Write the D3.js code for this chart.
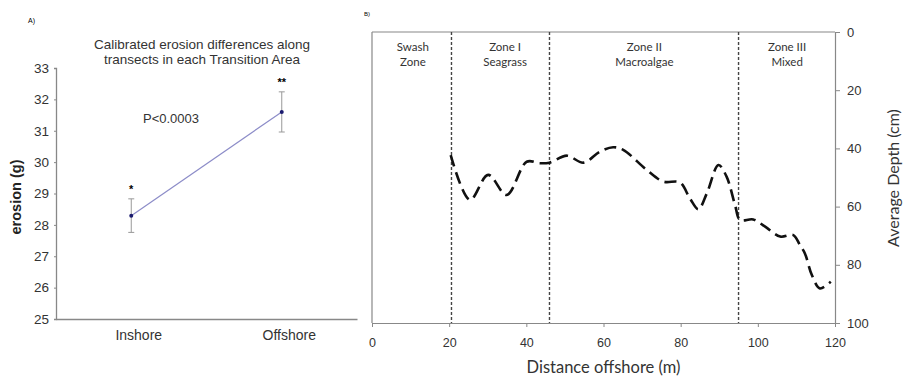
<!DOCTYPE html>
<html>
<head>
<meta charset="utf-8">
<script src="https://cdn.jsdelivr.net/npm/d3@7"></script>
<style>
  body { margin: 0; background: #fff; }
  svg { display: block; }
</style>
</head>
<body>
<div id="chart"></div>
<script>
// Panel A: erosion by transect position
var categories = ["Inshore", "Offshore"];
var erosionMean = [28.29, 31.6];
var erosionLow = [27.76, 30.96];
var erosionHigh = [28.83, 32.24];
var sigMarks = ["*", "**"];
var erosionTicks = [25, 26, 27, 28, 29, 30, 31, 32, 33];

// Panel B: depth profile along transect
var distance = [20.4, 25.4, 30.1, 34.9, 40.1, 43.5, 46, 50.5, 54.8, 59.1, 62.5, 65.1, 71.2, 75.5, 79.8,
    82.4, 84.6, 86.8, 89.8, 91.9, 94.1, 95.4, 98.8, 101.9, 105.8, 109.2, 110.9, 112.2, 114, 116.1, 118.9];
var depth = [42.3, 57.7, 49.1, 56, 44.6, 45.1, 44.9, 42.5, 44.9, 41.1, 39.6, 40.5, 47.4, 51.4, 51.7,
    57.2, 60.9, 55.4, 45.7, 49.7, 59.5, 64.6, 64.4, 66.9, 70.3, 69.8, 73.2, 76.1, 83.5, 88.1, 85.8];
var zoneBounds = [20.6, 46, 95];
var zoneNames = [["Swash", "Zone"], ["Zone I", "Seagrass"], ["Zone II", "Macroalgae"], ["Zone III", "Mixed"]];
var zoneCenters = [10.6, 34.5, 70.6, 107.6];
var distTicks = [0, 20, 40, 60, 80, 100, 120];
var depthTicks = [0, 20, 40, 60, 80, 100];

var width = 905, height = 381;
var svg = d3.select("#chart").append("svg")
    .attr("width", width)
    .attr("height", height);

var arial = "'Liberation Sans', Arial, sans-serif";
var calibri = "Lato, 'Open Sans', sans-serif";

// ---------- Panel A ----------
var xA = d3.scalePoint().domain(categories).range([56, 357]).padding(0.5);
var yA = d3.scaleLinear().domain([25, 33]).range([319, 68]);

svg.append("text").attr("x", 28).attr("y", 23)
    .style("font-family", arial).style("font-size", "7px").text("A)");

var titleA = svg.append("text").attr("x", 202).attr("y", 49)
    .attr("text-anchor", "middle")
    .style("font-family", arial).style("font-size", "13.5px").style("fill", "#333");
titleA.append("tspan").attr("x", 202).text("Calibrated erosion differences along");
titleA.append("tspan").attr("x", 202).attr("dy", 15).text("transects in each Transition Area");

var yAxisA = svg.append("g").attr("transform", "translate(56,0)")
    .call(d3.axisLeft(yA).tickValues(erosionTicks).tickSize(2).tickFormat(d3.format("d")));
yAxisA.select(".domain").attr("stroke", "#888").attr("stroke-width", 1.3);
yAxisA.selectAll(".tick line").attr("stroke", "#888");
yAxisA.selectAll("text").attr("x", -7)
    .style("font-family", arial).style("font-size", "13.5px").style("fill", "#333");

var xAxisA = svg.append("g").attr("transform", "translate(0,319)")
    .call(d3.axisBottom(xA).tickSize(0));
xAxisA.select(".domain").attr("stroke", "#888").attr("stroke-width", 1.5);
xAxisA.selectAll("text").attr("y", 11).attr("dx", 7)
    .style("font-family", arial).style("font-size", "14px").style("fill", "#333");

svg.append("text").attr("transform", "translate(21,197) rotate(-90)")
    .attr("text-anchor", "middle")
    .style("font-family", arial).style("font-size", "14.5px").style("font-weight", "bold")
    .style("fill", "#222")
    .text("erosion (g)");

svg.append("path")
    .datum(categories)
    .attr("fill", "none").attr("stroke", "#8c8cc8").attr("stroke-width", 1.2)
    .attr("d", d3.line().x(function(d) { return xA(d); })
        .y(function(d, i) { return yA(erosionMean[i]); }));

var bars = svg.selectAll(".errbar").data(categories).enter().append("g").attr("class", "errbar");
bars.append("line")
    .attr("x1", function(d) { return xA(d); }).attr("x2", function(d) { return xA(d); })
    .attr("y1", function(d, i) { return yA(erosionLow[i]); })
    .attr("y2", function(d, i) { return yA(erosionHigh[i]); })
    .attr("stroke", "#999");
[erosionLow, erosionHigh].forEach(function(arr) {
    bars.append("line")
        .attr("x1", function(d) { return xA(d) - 3; }).attr("x2", function(d) { return xA(d) + 3; })
        .attr("y1", function(d, i) { return yA(arr[i]); })
        .attr("y2", function(d, i) { return yA(arr[i]); })
        .attr("stroke", "#999");
});
bars.append("circle")
    .attr("cx", function(d) { return xA(d); })
    .attr("cy", function(d, i) { return yA(erosionMean[i]); })
    .attr("r", 2).attr("fill", "#1a1a6e");
bars.append("text")
    .attr("x", function(d) { return xA(d); })
    .attr("y", function(d, i) { return yA(erosionHigh[i]) - 6; })
    .attr("text-anchor", "middle")
    .style("font-family", arial).style("font-size", "11px").style("font-weight", "bold")
    .text(function(d, i) { return sigMarks[i]; });

svg.append("text").attr("x", 143).attr("y", 123)
    .style("font-family", arial).style("font-size", "13px").style("fill", "#333")
    .text("P<0.0003");

// ---------- Panel B ----------
var xB = d3.scaleLinear().domain([0, 120]).range([372, 835]);
var yB = d3.scaleLinear().domain([0, 100]).range([32, 323]);

svg.append("text").attr("x", 364).attr("y", 16)
    .style("font-family", arial).style("font-size", "6px").text("B)");

// frame top and left
svg.append("line").attr("x1", xB(0)).attr("x2", xB(120)).attr("y1", yB(0)).attr("y2", yB(0))
    .attr("stroke", "#888").attr("stroke-width", 1.2);
svg.append("line").attr("x1", xB(0)).attr("x2", xB(0)).attr("y1", yB(0)).attr("y2", yB(100))
    .attr("stroke", "#888").attr("stroke-width", 1.2);

var xAxisB = svg.append("g").attr("transform", "translate(0," + yB(100) + ")")
    .call(d3.axisBottom(xB).tickValues(distTicks).tickSize(4).tickSizeOuter(0));
xAxisB.select(".domain").attr("stroke", "#888").attr("stroke-width", 1.2);
xAxisB.selectAll(".tick line").attr("stroke", "#888");
xAxisB.selectAll("text").attr("y", 15)
    .style("font-family", arial).style("font-size", "12.5px").style("fill", "#333");

var yAxisB = svg.append("g").attr("transform", "translate(" + xB(120) + ",0)")
    .call(d3.axisRight(yB).tickValues(depthTicks).tickSize(5).tickSizeOuter(0));
yAxisB.select(".domain").attr("stroke", "#888").attr("stroke-width", 1.2);
yAxisB.selectAll(".tick line").attr("stroke", "#888");
yAxisB.selectAll("text").attr("x", 12)
    .style("font-family", arial).style("font-size", "13px").style("fill", "#333");

svg.append("text").attr("x", xB(60)).attr("y", 373)
    .attr("text-anchor", "middle")
    .style("font-family", calibri).style("font-size", "16.5px").style("fill", "#333")
    .text("Distance offshore (m)");

svg.append("text").attr("transform", "translate(899,178) rotate(-90)")
    .attr("text-anchor", "middle")
    .style("font-family", calibri).style("font-size", "16px").style("fill", "#333")
    .text("Average Depth (cm)");

// zone boundaries
svg.selectAll(".zoneLine").data(zoneBounds).enter().append("line")
    .attr("class", "zoneLine")
    .attr("x1", function(d) { return xB(d); }).attr("x2", function(d) { return xB(d); })
    .attr("y1", yB(0)).attr("y2", yB(100))
    .attr("stroke", "#444").attr("stroke-width", 1.4)
    .attr("stroke-dasharray", "3,2");

var zoneLabels = svg.selectAll(".zoneLabel").data(zoneNames).enter().append("text")
    .attr("class", "zoneLabel")
    .attr("text-anchor", "middle")
    .style("font-family", calibri).style("font-size", "11.5px").style("fill", "#333");
zoneLabels.each(function(d, i) {
    var t = d3.select(this);
    t.append("tspan").attr("x", xB(zoneCenters[i])).attr("y", 51).text(d[0]);
    t.append("tspan").attr("x", xB(zoneCenters[i])).attr("y", 66).text(d[1]);
});

// depth profile
svg.append("path")
    .datum(distance)
    .attr("fill", "none")
    .attr("stroke", "#111")
    .attr("stroke-width", 2.6)
    .attr("stroke-dasharray", "12,6")
    .attr("d", d3.line()
        .curve(d3.curveCatmullRom.alpha(0.5))
        .x(function(d) { return xB(d); })
        .y(function(d, i) { return yB(depth[i]); }));
</script>
</body>
</html>
